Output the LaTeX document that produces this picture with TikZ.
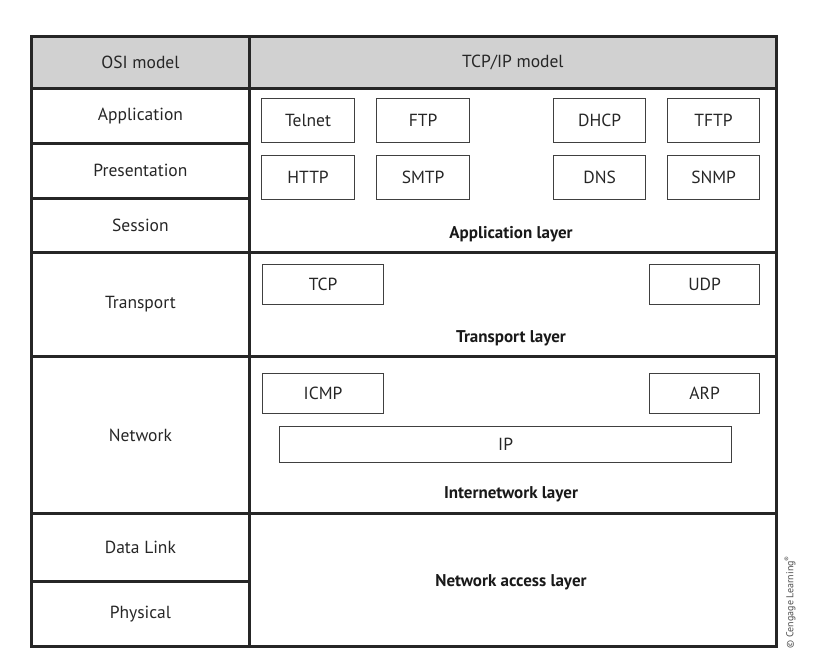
\documentclass[tikz,border=0pt]{standalone}
\usepackage{fontspec}
\setmainfont{PT Sans}
\begin{document}
\begin{tikzpicture}[x=1pt,y=-1pt,
  cell/.style={draw=black!85,line width=2.8pt,anchor=north west,inner sep=0pt,font=\fontsize{17.5}{19}\selectfont,text=black!85},
  proto/.style={draw=black!75,line width=1.2pt,anchor=north west,inner sep=0pt,font=\fontsize{17.5}{19}\selectfont,text=black!85},
  lbl/.style={font=\bfseries\fontsize{17}{19}\selectfont,text=black!90}]
\useasboundingbox (0,0) rectangle (830,660);
% header
\node[cell,fill=black!18,minimum width=218pt,minimum height=52pt] (osi) at (30,35) {OSI model};
\node[cell,fill=black!18,minimum width=527pt,minimum height=52pt] (tcpip) at (248,35) {TCP/IP model};
% left column
\node[cell,minimum width=218pt,minimum height=55pt] (app) at (30,87) {Application};
\node[cell,minimum width=218pt,minimum height=55pt] (pres) at (30,142) {Presentation};
\node[cell,minimum width=218pt,minimum height=54pt] (sess) at (30,197) {Session};
\node[cell,minimum width=218pt,minimum height=104pt] (trans) at (30,251) {Transport};
\node[cell,minimum width=218pt,minimum height=157pt] (net) at (30,355) {Network};
\node[cell,minimum width=218pt,minimum height=68pt] (dl) at (30,512) {Data Link};
\node[cell,minimum width=218pt,minimum height=65pt] (phy) at (30,580) {Physical};
% right column
\node[cell,minimum width=527pt,minimum height=164pt] (applayer) at (248,87) {};
\node[cell,minimum width=527pt,minimum height=104pt] (translayer) at (248,251) {};
\node[cell,minimum width=527pt,minimum height=157pt] (inetlayer) at (248,355) {};
\node[cell,minimum width=527pt,minimum height=133pt] (nalayer) at (248,512) {};
% layer labels
\node[lbl] (applbl) at (511,234) {Application layer};
\node[lbl] (translbl) at (511,338) {Transport layer};
\node[lbl] (inetlbl) at (511,494) {Internetwork layer};
\node[lbl] (nalbl) at (511,582) {Network access layer};
% application protocols
\node[proto,minimum width=93pt,minimum height=44pt] (telnet) at (261,98) {Telnet};
\node[proto,minimum width=93pt,minimum height=44pt] (ftp) at (376,98) {FTP};
\node[proto,minimum width=92pt,minimum height=44pt] (dhcp) at (553,98) {DHCP};
\node[proto,minimum width=92pt,minimum height=44pt] (tftp) at (667,98) {TFTP};
\node[proto,minimum width=93pt,minimum height=44pt] (http) at (261,155) {HTTP};
\node[proto,minimum width=93pt,minimum height=44pt] (smtp) at (376,155) {SMTP};
\node[proto,minimum width=92pt,minimum height=44pt] (dns) at (553,155) {DNS};
\node[proto,minimum width=92pt,minimum height=44pt] (snmp) at (667,155) {SNMP};
% transport protocols
\node[proto,minimum width=121pt,minimum height=40pt] (tcp) at (262,264) {TCP};
\node[proto,minimum width=110pt,minimum height=40pt] (udp) at (649,264) {UDP};
% internetwork protocols
\node[proto,minimum width=121pt,minimum height=40pt] (icmp) at (262,373) {ICMP};
\node[proto,minimum width=110pt,minimum height=40pt] (arp) at (649,373) {ARP};
\node[proto,minimum width=452pt,minimum height=36pt] (ip) at (279,426) {IP};
% copyright
\node[rotate=90,font=\fontsize{10}{12}\selectfont,text=black!70] (copy) at (790,602) {© Cengage Learning\textsuperscript{®}};
\end{tikzpicture}
\end{document}
